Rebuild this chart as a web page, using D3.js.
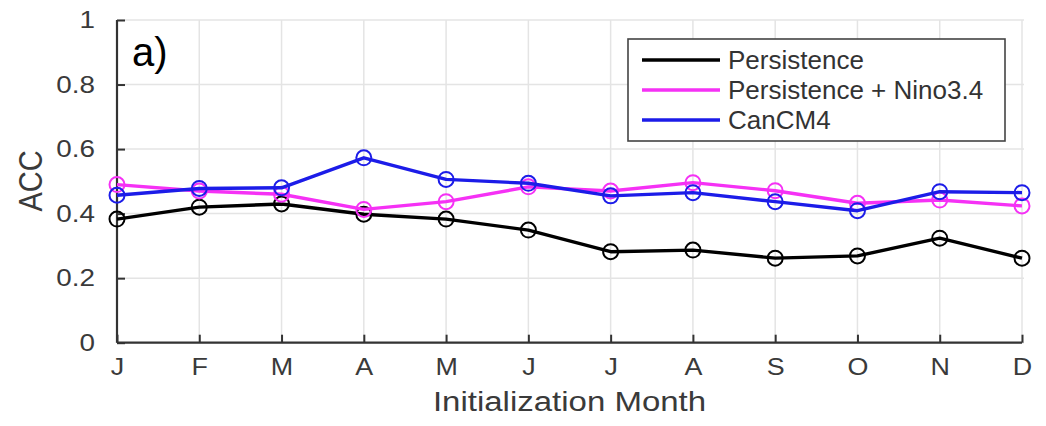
<!DOCTYPE html>
<html>
<head>
<meta charset="utf-8">
<script src="https://cdn.jsdelivr.net/npm/d3@7"></script>
<style>
  html, body { margin: 0; padding: 0; background: #fff; }
  svg { display: block; }
  text { font-family: "Liberation Sans", Arial, Helvetica, sans-serif; }
</style>
</head>
<body>
<svg id="chart" width="1046" height="426"></svg>
<script>
// Initialization months (x categories)
const months = ["J", "F", "M", "A", "M", "J", "J", "A", "S", "O", "N", "D"];

// Anomaly correlation coefficient per initialization month
const persistence = [0.383, 0.420, 0.430, 0.398, 0.383, 0.349, 0.282, 0.287, 0.262, 0.269, 0.324, 0.262];
const persistenceNino = [0.490, 0.470, 0.460, 0.413, 0.437, 0.483, 0.470, 0.496, 0.471, 0.432, 0.442, 0.424];
const canCM4 = [0.457, 0.478, 0.480, 0.573, 0.506, 0.494, 0.455, 0.465, 0.437, 0.409, 0.468, 0.465];

const seriesNames = ["Persistence", "Persistence + Nino3.4", "CanCM4"];
const seriesColors = ["#000000", "#f531f5", "#1c1ce8"];

// Y axis ticks
const yTicks = [0, 0.2, 0.4, 0.6, 0.8, 1];
const yTickLabels = ["0", "0.2", "0.4", "0.6", "0.8", "1"];

const svg = d3.select("#chart");
const margin = { left: 117, right: 1022, top: 20, bottom: 342.7 };

const x = d3.scaleLinear().domain([0, months.length - 1]).range([margin.left, margin.right]);
const y = d3.scaleLinear().domain([0, 1]).range([margin.bottom, margin.top]);

const axisColor = "#333333";
const gridColor = "#e4e4e4";

// horizontal text stretch used by the axis labels
function stretchText(sel, k) {
  sel.each(function () {
    const t = d3.select(this);
    const xv = +t.attr("x") || 0;
    t.attr("x", xv / k).attr("transform", `scale(${k},1)`);
  });
}

// Grid
const grid = svg.append("g");
grid.selectAll("line.gx").data(d3.range(months.length)).join("line")
  .attr("x1", d => x(d)).attr("x2", d => x(d))
  .attr("y1", y(0)).attr("y2", y(1))
  .attr("stroke", gridColor).attr("stroke-width", 1.5);
grid.selectAll("line.gy").data(yTicks).join("line")
  .attr("x1", x(0)).attr("x2", x(months.length - 1) + 2)
  .attr("y1", d => y(d)).attr("y2", d => y(d))
  .attr("stroke", gridColor).attr("stroke-width", 1.5);

// Axes (ticks point inward)
const yAxis = d3.axisLeft(y).tickValues(yTicks)
  .tickFormat((d, i) => yTickLabels[i]).tickSize(-8).tickPadding(22);
const gy = svg.append("g").attr("transform", `translate(${margin.left},0)`).call(yAxis);

const xAxis = d3.axisBottom(x).tickValues(d3.range(months.length))
  .tickFormat(i => months[i]).tickSize(-8).tickPadding(18);
const gx = svg.append("g").attr("transform", `translate(0,${margin.bottom})`).call(xAxis);

[gx, gy].forEach(g => {
  g.select(".domain").attr("stroke", axisColor).attr("stroke-width", 2.2);
  g.selectAll(".tick line").attr("stroke", axisColor).attr("stroke-width", 2);
  g.selectAll(".tick text").attr("fill", "#3a3a3a").attr("font-size", 24)
    .attr("font-family", "'Liberation Sans', Arial, sans-serif");
});
gy.select(".domain").attr("d", `M0,${y(0)}V${y(1)}`);
gx.select(".domain").attr("d", `M${x(0)},0H${x(months.length - 1)}`);
gx.selectAll(".tick text").attr("dy", "0.6em");
stretchText(gy.selectAll(".tick text"), 1.16);
stretchText(gx.selectAll(".tick text"), 1.12);

// Series lines and circle markers
const allSeries = [persistence, persistenceNino, canCM4];
const line = d3.line().x((d, i) => x(i)).y(d => y(d));
allSeries.forEach((vals, s) => {
  const g = svg.append("g");
  g.append("path").datum(vals).attr("d", line)
    .attr("fill", "none").attr("stroke", seriesColors[s])
    .attr("stroke-width", 3.4).attr("stroke-linejoin", "round");
  g.selectAll("circle").data(vals).join("circle")
    .attr("cx", (d, i) => x(i)).attr("cy", d => y(d)).attr("r", 7.5)
    .attr("fill", "none").attr("stroke", seriesColors[s]).attr("stroke-width", 2);
});

// Axis titles
svg.append("text")
  .attr("transform", `translate(${x(5.5)},411) scale(1.2,1)`)
  .attr("text-anchor", "middle").attr("font-size", 27.5).attr("fill", "#3a3a3a")
  .text("Initialization Month");
svg.append("text")
  .attr("transform", `translate(42,181) rotate(-90) scale(1,1.17)`)
  .attr("text-anchor", "middle").attr("font-size", 29).attr("fill", "#3a3a3a")
  .text("ACC");

// Panel label
svg.append("text")
  .attr("x", 132).attr("y", 66)
  .attr("font-family", "'Noto Sans', 'Open Sans', sans-serif")
  .attr("font-size", 40).attr("fill", "#000")
  .text("a)");

// Legend
const lg = svg.append("g");
lg.append("rect").attr("x", 628).attr("y", 39).attr("width", 377).attr("height", 102)
  .attr("fill", "#fff").attr("stroke", "#444").attr("stroke-width", 1.6);
seriesNames.forEach((name, i) => {
  const yy = 60 + i * 30;
  lg.append("line").attr("x1", 642).attr("x2", 720).attr("y1", yy).attr("y2", yy)
    .attr("stroke", seriesColors[i]).attr("stroke-width", 3.4);
  lg.append("text").attr("x", 728).attr("y", yy).attr("dy", "0.36em")
    .attr("font-size", 26).attr("fill", "#333").text(name);
});
</script>
</body>
</html>
